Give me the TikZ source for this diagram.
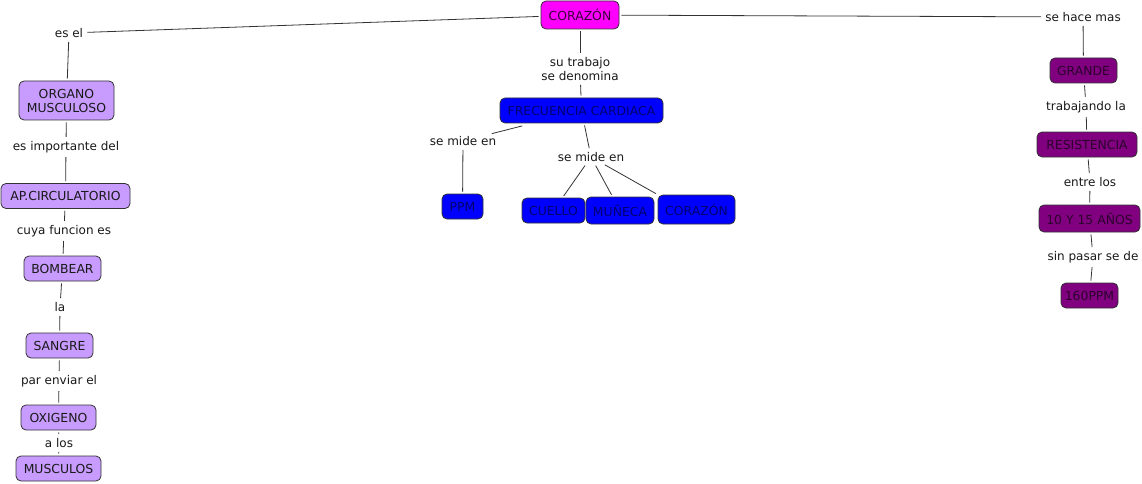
\documentclass[tikz,border=0pt]{standalone}
\usepackage{fontspec}
\setmainfont{DejaVu Sans}
\usetikzlibrary{calc}
\definecolor{lav}{HTML}{C89CFF}
\definecolor{mag}{HTML}{FF00FF}
\definecolor{pur}{HTML}{800080}
\definecolor{blu}{HTML}{0000FF}
\definecolor{edgec}{HTML}{333333}
\begin{document}
\begin{tikzpicture}[x=1pt,y=-1pt,
  font=\fontsize{12}{14}\selectfont,
  concept/.style={draw=edgec, rounded corners=5pt, line width=0.8pt, inner sep=0pt, align=center, minimum height=25pt, font=\fontsize{12.4}{14}\selectfont},
  lavbox/.style={concept, fill=lav, text=black!90},
  magbox/.style={concept, fill=mag, text={rgb,255:red,60;green,0;blue,60}},
  purbox/.style={concept, fill=pur, text={rgb,255:red,45;green,0;blue,45}},
  blubox/.style={concept, fill=blu, text={rgb,255:red,0;green,0;blue,110}},
  linklabel/.style={inner sep=2pt, align=center, text=black!90, fill=white},
  conn/.style={draw=edgec, line width=0.8pt, shorten <=2pt, shorten >=2pt}
]
\useasboundingbox (0,0) rectangle (1142,484);

% concepts
\node[magbox, minimum width=78pt, minimum height=28pt] (c1) at (580,15) {CORAZÓN};
\node[lavbox, minimum width=95pt, minimum height=39pt] (org) at (66.5,100.5) {ORGANO\\MUSCULOSO};
\node[lavbox, minimum width=129pt] (ap) at (65.5,196) {AP.CIRCULATORIO};
\node[lavbox, minimum width=77pt] (bom) at (62.5,268.5) {BOMBEAR};
\node[lavbox, minimum width=67pt] (san) at (59.5,345.5) {SANGRE};
\node[lavbox, minimum width=75pt] (oxi) at (58.5,417.5) {OXIGENO};
\node[lavbox, minimum width=85pt] (mus) at (58.5,468.5) {MUSCULOS};
\node[blubox, minimum width=163pt] (fc) at (581.5,110.5) {FRECUENCIA CARDIACA};
\node[blubox, minimum width=41pt] (ppm) at (462.5,206.5) {PPM};
\node[blubox, minimum width=63pt] (cue) at (553.5,210.5) {CUELLO};
\node[blubox, minimum width=68pt, minimum height=27pt] (mun) at (620,210.5) {MUÑECA};
\node[blubox, minimum width=77pt, minimum height=29pt] (c2) at (696.5,209.5) {CORAZÓN};
\node[purbox, minimum width=67pt] (gra) at (1083.5,70.5) {GRANDE};
\node[purbox, minimum width=100pt] (res) at (1087,144.5) {RESISTENCIA};
\node[purbox, minimum width=101pt, minimum height=27pt] (ano) at (1089.5,218.5) {10 Y 15 AÑOS};
\node[purbox, minimum width=57pt] (p160) at (1089.5,295.5) {160PPM};

% linking phrases
\node[linklabel] (l1) at (69,33) {es el};
\node[linklabel] (l2) at (1083,17) {se hace mas};
\node[linklabel] (l3) at (66,147) {es importante del};
\node[linklabel] (l4) at (64,231) {cuya funcion es};
\node[linklabel] (l5) at (60,307) {la};
\node[linklabel] (l6) at (59,381) {par enviar el};
\node[linklabel] (l7) at (59,443) {a los};
\node[linklabel] (l8) at (580,69) {su trabajo\\se denomina};
\node[linklabel] (l9) at (463,141) {se mide en};
\node[linklabel] (l10) at (591,157) {se mide en};
\node[linklabel] (l11) at (1086,107) {trabajando la};
\node[linklabel] (l12) at (1090,182) {entre los};
\node[linklabel] (l13) at (1093,257) {sin pasar se de};

% connectors
\draw[conn] (c1) -- (l1);
\draw[conn] (c1) -- (l2);
\draw[conn] (l1) -- (org);
\draw[conn] (org) -- (l3);
\draw[conn] (l3) -- (ap);
\draw[conn] (ap) -- (l4);
\draw[conn] (l4) -- (bom);
\draw[conn] (bom) -- (l5);
\draw[conn] (l5) -- (san);
\draw[conn] (san) -- (l6);
\draw[conn] (l6) -- (oxi);
\draw[conn] (oxi) -- (l7);
\draw[conn] (l7) -- (mus);
\draw[conn] (c1) -- (l8);
\draw[conn] (l8) -- (fc);
\coordinate (fcl) at ($(fc.south west)!0.15!(fc.south east)+(0,2)$);
\draw[conn] (fcl) -- (l9);
\draw[conn] (l9) -- (ppm);
\draw[conn] (fc) -- (l10);
\draw[conn] (l10) -- (cue);
\draw[conn] (l10) -- (mun);
\draw[conn] (l10) -- (c2.north west);
\draw[conn] (l2) -- (gra);
\draw[conn] (gra) -- (l11);
\draw[conn] (l11) -- (res);
\draw[conn] (res) -- (l12);
\draw[conn] (l12) -- (ano);
\draw[conn] (ano) -- (l13);
\draw[conn] (l13) -- (p160);
\end{tikzpicture}
\end{document}
